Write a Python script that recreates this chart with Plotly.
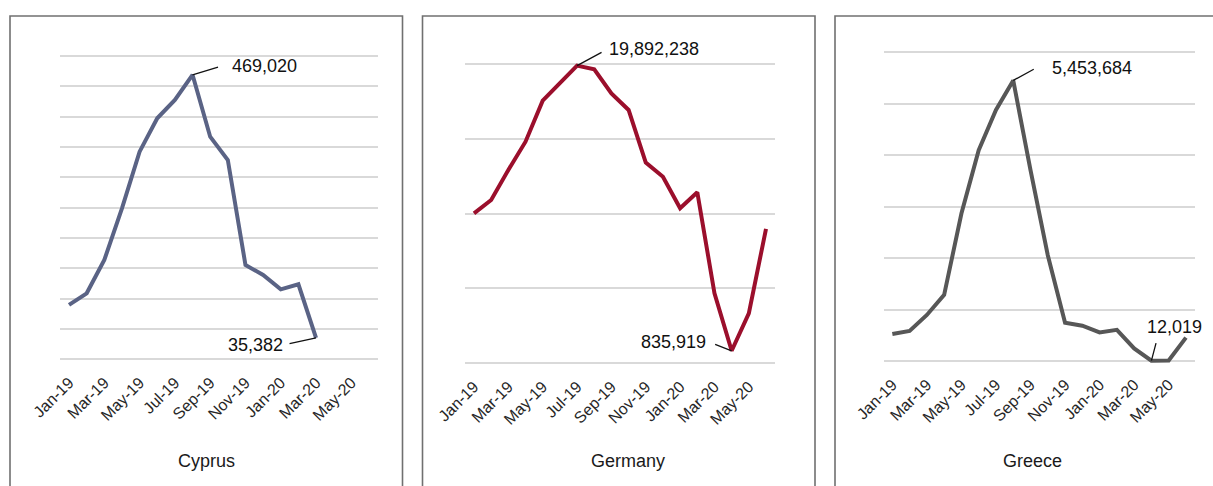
import plotly.graph_objects as go

W, H = 1213, 486

months = ["Jan-19", "Feb-19", "Mar-19", "Apr-19", "May-19", "Jun-19", "Jul-19", "Aug-19",
          "Sep-19", "Oct-19", "Nov-19", "Dec-19", "Jan-20", "Feb-20", "Mar-20", "Apr-20",
          "May-20", "Jun-20"]
tick_labels = months[::2]

cyprus = [89600, 108800, 163700, 248900, 342300, 397300, 427500, 469020, 367000,
          328600, 155500, 139000, 115400, 123600, 35382]
germany = [10020000, 10910000, 12920000, 14810000, 17550000, 18710000, 19892238,
           19640000, 18040000, 16930000, 13410000, 12470000, 10360000, 11430000,
           4680000, 835919, 3340000, 8980000]
greece = [530000, 590000, 900000, 1290000, 2870000, 4100000, 4880000, 5453684,
          3710000, 2060000, 750000, 690000, 560000, 610000, 250000, 12019, 15000, 460000]

countries = ["Cyprus", "Germany", "Greece"]
series = [cyprus, germany, greece]
colors = ["#5a6385", "#9b0f2c", "#575757"]
y_max = [500000, 20000000, 6000000]
y_step = [50000, 5000000, 1000000]

# plot areas in pixels: (left, right, top, bottom)
areas = [(60.2, 377.8, 56.0, 359.3), (465.4, 774.6, 64.0, 363.3), (883.7, 1194.6, 52.3, 361.3)]
# boxes in pixels: (left, right, top)
boxes = [(10, 402.5, 16), (422.5, 815, 16), (835, 1225, 16)]
title_x = [206, 628, 1032]

# labelled points: (series idx, point idx, arrow ax, ay, text anchor, xshift, yshift)
labels = [
    (0, 7, 27, -8, "left", 37, 8.7),
    (0, 14, -28, 6, "right", -31, -7.4),
    (1, 6, 26, -14, "left", 30, 16.7),
    (1, 15, -18, -7, "right", -23.4, 9),
    (2, 7, 22, -12, "left", 36.7, 12.4),
    (2, 15, 5, -19, "center", 23, 34),
]

fig = go.Figure()
shapes = []
annotations = []
for i, (name, vals, col) in enumerate(zip(countries, series, colors)):
    sfx = "" if i == 0 else str(i + 1)
    fig.add_trace(go.Scatter(x=months[:len(vals)], y=vals, mode="lines",
                             line=dict(color=col, width=4), xaxis="x" + sfx, yaxis="y" + sfx,
                             showlegend=False, hoverinfo="x+y"))
    l, r, t, b = areas[i]
    vpp = y_max[i] / (b - t)  # value per pixel
    fig.layout["xaxis" + sfx] = dict(
        domain=[l / W, r / W], anchor="y" + sfx, type="category",
        categoryorder="array", categoryarray=months, range=[-0.5, len(months) - 0.5],
        tickmode="array", tickvals=tick_labels, ticktext=tick_labels, tickangle=-45,
        showgrid=False, showline=False, zeroline=False, ticks="", automargin=False,
        ticklabelstandoff=8,
        tickfont=dict(family="Liberation Sans, Arial", size=16, color="#262626"))
    fig.layout["yaxis" + sfx] = dict(
        domain=[1 - (b + 2) / H, 1 - (t - 2) / H], anchor="x" + sfx,
        range=[-2 * vpp, y_max[i] + 2 * vpp], automargin=False,
        tickmode="linear", tick0=0, dtick=y_step[i], showticklabels=False,
        showgrid=True, gridcolor="#d9d9d9", gridwidth=1.6, zeroline=False, showline=False)
    bl, br, bt = boxes[i]
    shapes.append(dict(type="rect", xref="paper", yref="paper", x0=bl / W, x1=br / W,
                       y0=-0.1, y1=1 - bt / H, line=dict(color="#707070", width=1.6),
                       fillcolor="rgba(0,0,0,0)"))
    annotations.append(dict(text=name, xref="paper", yref="paper", x=title_x[i] / W,
                            y=1 - 461 / H, showarrow=False, xanchor="center", yanchor="middle",
                            font=dict(family="Liberation Sans, Arial", size=18, color="#1a1a1a")))

for si, pi, ax, ay, anc, xs, ys in labels:
    sfx = "" if si == 0 else str(si + 1)
    xv = months[pi]
    yv = series[si][pi]
    annotations.append(dict(x=xv, y=yv, xref="x" + sfx, yref="y" + sfx, text="",
                            showarrow=True, arrowhead=0, arrowwidth=1.3, arrowcolor="#111111",
                            ax=ax, ay=ay, standoff=0, startstandoff=0))
    annotations.append(dict(x=xv, y=yv, xref="x" + sfx, yref="y" + sfx,
                            text=f"{yv:,}", showarrow=False, xanchor=anc, yanchor="middle",
                            xshift=xs, yshift=ys,
                            font=dict(family="Liberation Sans, Arial", size=18, color="#111111")))

fig.update_layout(width=W, height=H, margin=dict(l=0, r=0, t=0, b=0, pad=0, autoexpand=False),
                  paper_bgcolor="white", plot_bgcolor="white",
                  shapes=shapes, annotations=annotations, showlegend=False)

fig.write_html("out.html", config={"displayModeBar": False},
               post_script="document.body.style.margin='0';document.body.style.overflow='hidden';")
